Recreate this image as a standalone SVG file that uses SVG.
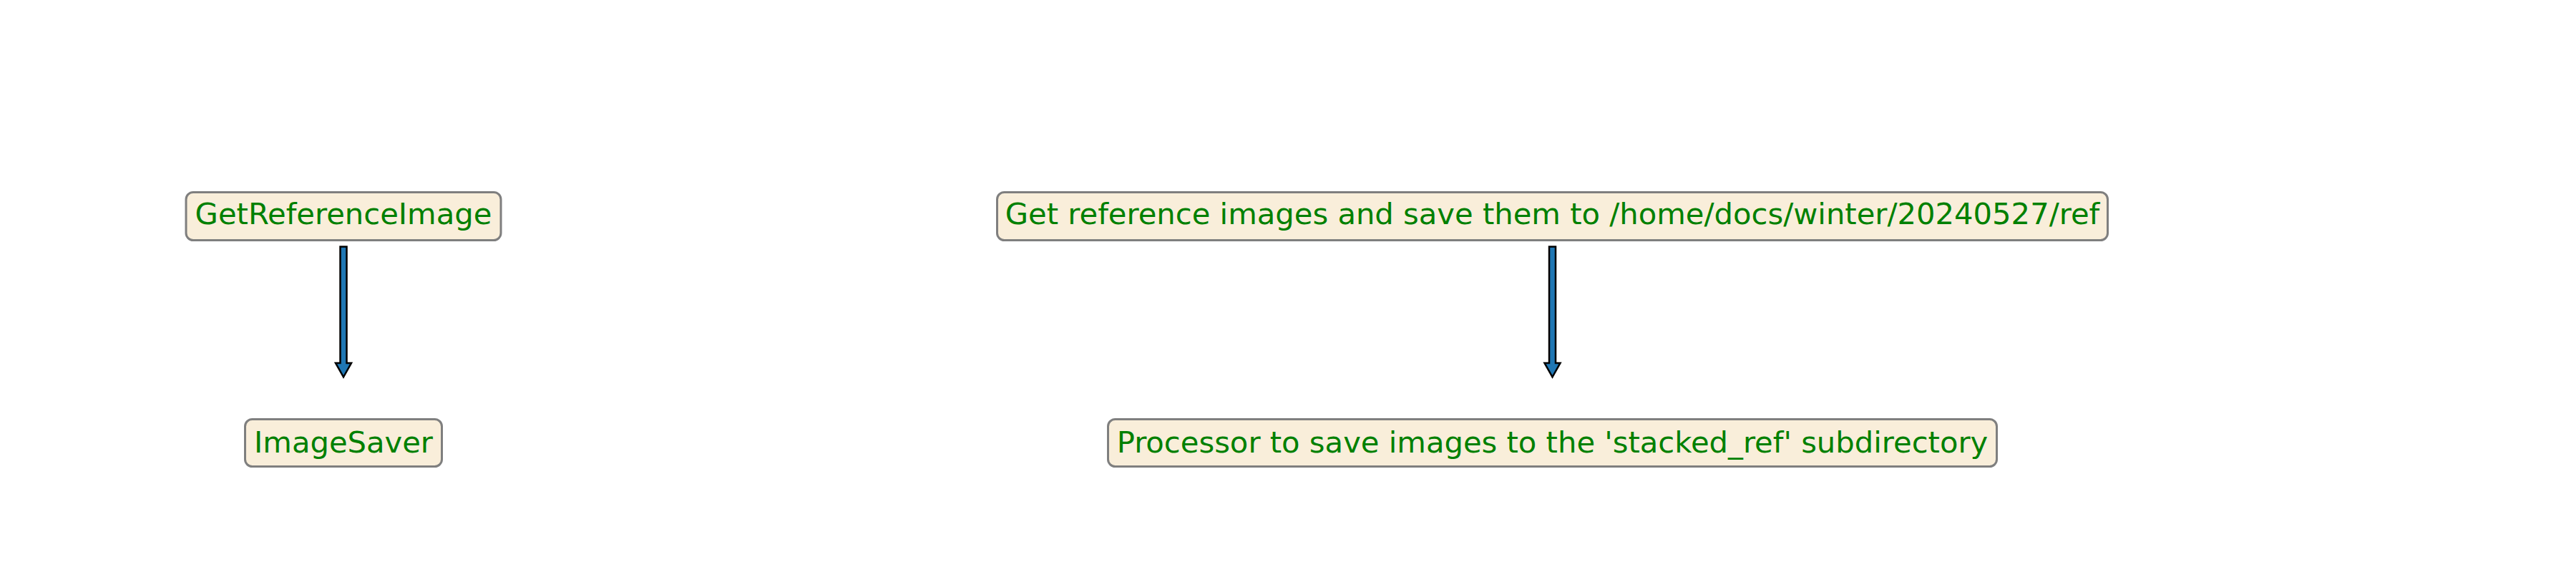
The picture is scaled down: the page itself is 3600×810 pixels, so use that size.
<svg xmlns="http://www.w3.org/2000/svg" width="3600" height="810" viewBox="0 0 3600 810">
<style>
.box{fill:#f9eeda;stroke:#7f7f7f;stroke-width:3}
.lbl{font-family:"DejaVu Sans",sans-serif;font-size:41.7px;fill:#008000;text-anchor:middle}
.arr{fill:#1f77b4;stroke:#000;stroke-width:2.5;stroke-linejoin:miter}
</style>
<rect width="3600" height="810" fill="#fff"/>
<g id="connectors">
<polygon class="arr" points="475.5,344.5 484.5,344.5 484.5,507 491,507 480,526.5 469,507 475.5,507"/>
<polygon class="arr" points="2165,344.5 2174,344.5 2174,507 2180.5,507 2169.5,526.5 2158.5,507 2165,507"/>
</g>
<g id="n1">
<rect class="box" x="260" y="268.5" width="440" height="67" rx="10"/>
<text class="lbl" x="480" y="313">GetReferenceImage</text>
</g>
<g id="n2">
<rect class="box" x="342.5" y="585.5" width="275" height="66" rx="10"/>
<text class="lbl" x="480" y="632">ImageSaver</text>
</g>
<g id="n3">
<rect class="box" x="1393.5" y="268.5" width="1552" height="67" rx="10"/>
<text class="lbl" x="2169.5" y="313">Get reference images and save them to /home/docs/winter/20240527/ref</text>
</g>
<g id="n4">
<rect class="box" x="1548.5" y="585.5" width="1242" height="66" rx="10"/>
<text class="lbl" x="2169.5" y="632">Processor to save images to the 'stacked_ref' subdirectory</text>
</g>
</svg>
